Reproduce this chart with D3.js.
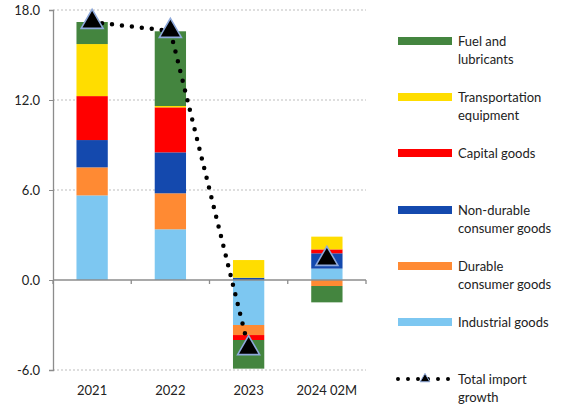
<!DOCTYPE html>
<html><head><meta charset="utf-8">
<script src="https://cdn.jsdelivr.net/npm/d3@7"></script>
<style>
html,body{margin:0;padding:0;background:#fff;}
text{font-family:Lato,"Open Sans",sans-serif;fill:#222;}
</style></head>
<body><svg id="c" width="561" height="406"></svg>
<script>
const categories = ["2021", "2022", "2023", "2024 02M"];
const industrial = [5.64, 3.38, -3.00, 0.76];
const durable    = [1.87, 2.40, -0.67, -0.40];
const nondurable = [1.82, 2.73, 0.15, 1.02];
const capital    = [2.93, 3.00, -0.33, 0.26];
const transport  = [3.47, 0.09, 1.18, 0.85];
const fuel       = [1.47, 4.98, -1.91, -1.09];
const total      = [17.2, 16.6, -4.55, 1.4];
const totalLinked = [true, true, true, false];
const yTicks = [-6, 0, 6, 12, 18];

const seriesNames = ["Industrial goods", "Durable\nconsumer goods", "Non-durable\nconsumer goods", "Capital goods", "Transportation\nequipment", "Fuel and\nlubricants"];
const seriesData = [industrial, durable, nondurable, capital, transport, fuel];
const seriesColors = ["#7DC7F1", "#FF8A33", "#1449AE", "#FF0000", "#FFDD00", "#44853F"];

const svg = d3.select("#c");
const L = 53, R = 366, T = 10, B = 370;
const x = d3.scaleBand().domain(categories).range([L, R]).paddingInner(0.6).paddingOuter(0.3);
const y = d3.scaleLinear().domain([-6, 18]).range([B, T]);

// gridlines
svg.append("g").selectAll("line").data(yTicks.filter(v => v !== 0)).join("line")
  .attr("x1", L).attr("x2", R).attr("y1", d => y(d)).attr("y2", d => y(d))
  .attr("stroke", "#BDBDBD").attr("stroke-width", 1).attr("stroke-dasharray", "2,2");

// stacked bars
const rows = categories.map((c, i) => {
  const o = {cat: c};
  seriesData.forEach((s, k) => o["s" + k] = s[i]);
  return o;
});
const keys = seriesData.map((s, k) => "s" + k);
const stacked = d3.stack().keys(keys).offset(d3.stackOffsetDiverging)(rows);
svg.append("g").selectAll("g").data(stacked).join("g")
  .attr("fill", (d, k) => seriesColors[k])
  .selectAll("rect").data(d => d).join("rect")
  .attr("x", d => x(d.data.cat)).attr("width", x.bandwidth())
  .attr("y", d => y(Math.max(d[0], d[1])))
  .attr("height", d => Math.abs(y(d[0]) - y(d[1])));

// axes
const yAxis = svg.append("g").attr("transform", `translate(${L},0)`)
  .call(d3.axisLeft(y).tickValues(yTicks).tickFormat(d => d.toFixed(1)).tickSize(4).tickPadding(9));
yAxis.select(".domain").attr("stroke", "#8C8C8C").attr("stroke-width", 1.3);
yAxis.selectAll(".tick line").attr("stroke", "#8C8C8C");
yAxis.selectAll("text").attr("font-size", 13).style("font-family", "Lato, sans-serif").attr("fill", "#222");

const step = x.step();
const xAxis = svg.append("g");
xAxis.append("line").attr("x1", L).attr("x2", R).attr("y1", y(0)).attr("y2", y(0))
  .attr("stroke", "#8C8C8C").attr("stroke-width", 1.3);
xAxis.selectAll(".xt").data(d3.range(categories.length + 1)).join("line")
  .attr("x1", i => L + i * step).attr("x2", i => L + i * step)
  .attr("y1", y(0)).attr("y2", y(0) + 4).attr("stroke", "#8C8C8C").attr("stroke-width", 1.3);
xAxis.selectAll("text").data(categories).join("text")
  .attr("x", d => x(d) + x.bandwidth() / 2).attr("y", 395)
  .attr("text-anchor", "middle").attr("font-size", 13).text(d => d);

// total line
const pts = categories.map((c, i) => ({cat: c, v: total[i], linked: totalLinked[i]}));
const line = d3.line().x(d => x(d.cat) + x.bandwidth() / 2).y(d => y(d.v));
svg.append("path").datum(pts.filter(d => d.linked)).attr("d", line)
  .attr("fill", "none").attr("stroke", "#000").attr("stroke-width", 4.5)
  .attr("stroke-linecap", "round").attr("stroke-dasharray", "0,10");
const tri = d3.symbol().type(d3.symbolTriangle).size(210);
svg.append("g").selectAll("path").data(pts).join("path")
  .attr("transform", d => `translate(${x(d.cat) + x.bandwidth() / 2},${y(d.v)})`)
  .attr("d", tri).attr("fill", "#000").attr("stroke", "#8EA9DB").attr("stroke-width", 1.6);

// legend
const legY = [322, 266, 210, 153, 97, 41];
const lg = svg.append("g");
seriesNames.forEach((name, k) => {
  const g = lg.append("g").attr("transform", `translate(0,${legY[k]})`);
  g.append("rect").attr("x", 398).attr("y", -4).attr("width", 54).attr("height", 8).attr("fill", seriesColors[k]);
  name.split("\n").forEach((ln, j) => {
    g.append("text").attr("x", 458).attr("y", j * 18).attr("dy", "0.35em").attr("font-size", 13).text(ln);
  });
});
const tg = lg.append("g").attr("transform", "translate(0,379)");
tg.append("line").attr("x1", 398).attr("x2", 452).attr("y1", 0).attr("y2", 0)
  .attr("stroke", "#000").attr("stroke-width", 4).attr("stroke-linecap", "round").attr("stroke-dasharray", "0,10");
tg.append("path").attr("transform", "translate(425,0)").attr("d", d3.symbol().type(d3.symbolTriangle).size(40))
  .attr("fill", "#000").attr("stroke", "#8EA9DB").attr("stroke-width", 1);
["Total import", "growth"].forEach((ln, j) => {
  tg.append("text").attr("x", 458).attr("y", j * 18).attr("dy", "0.35em").attr("font-size", 13).text(ln);
});
</script></body></html>
